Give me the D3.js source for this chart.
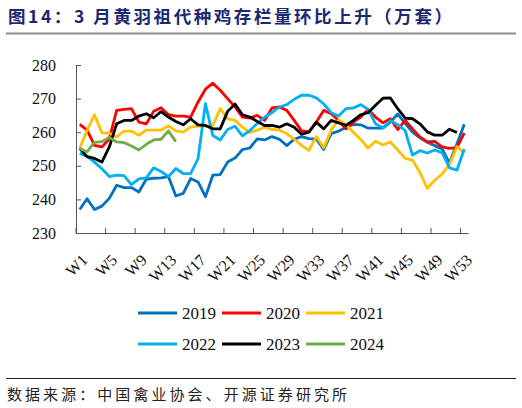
<html>
<head>
<meta charset="utf-8">
<title>黄羽祖代种鸡存栏量</title>
<style type="text/css">
    body { margin: 0; background: #fff; }
    svg { display: block; }
</style>
</head>
<body>
<script src="https://d3js.org/d3.v7.min.js"></script>
<script>

    // categories and tick labels
    var weeks = d3.range(1, 54).map(function (i) { return "W" + i; });
    var tickLabels = ["W1", "W5", "W9", "W13", "W17", "W21", "W25", "W29", "W33", "W37", "W41", "W45", "W49", "W53"];
    var yTicks = [230, 240, 250, 260, 270, 280];
    var years = ["2019", "2020", "2021", "2022", "2023", "2024"];

    // weekly stock (10k sets)
    var v2019 = [237, 240.2, 237, 238, 240.3, 244.2, 243.5, 243.5, 242.2, 246, 246.3, 246.4, 246.8, 241,
        241.8, 246.2, 245.2, 240.8, 247.2, 247.4, 251.1, 252.3, 254.8, 255.3, 258, 257.7, 258.7, 257.9,
        256, 257.9, 258.7, 258.1, 257.9, 254.9, 259.6, 260.3, 261.5, 262.3, 262.2, 261.2, 261.2, 261.2,
        263, 265.4, 262.6, 260, 258.3, 257, 256, 255, 250.8, 256.5, 262.4];
    var v2020 = [262.3, 260.6, 256.1, 255.6, 258, 266.5, 266.8, 267, 263, 262.5, 266.2, 267.3, 265.2, 264.8,
        264.8, 264.5, 269, 272.8, 274.6, 272.5, 270, 267.5, 264.5, 264.2, 265, 263.5, 267.2, 267.5,
        266.5, 263.5, 260.4, 260.2, 263, 266.5, 265.5, 263.5, 261, 263, 264.5, 266.8, 264.5, 262.8,
        264, 260.8, 263.5, 261, 258.6, 257.1, 257.3, 255.6, 255.2, 255.4, 259.8];
    var v2021 = [255.2, 260.5, 265.2, 259.8, 259.7, 258.6, 260.3, 260.3, 259.1, 260.6, 260.6, 260.6, 261.9, 260.4,
        260, 261.5, 261.8, 261.8, 262, 267, 264, 263.5, 261.5, 259.9, 260.6, 261.5, 260.8, 260.6,
        259.6, 257.9, 256.1, 254.6, 258.7, 255.4, 260.6, 263.7, 262.3, 260, 257.8, 255.3, 257.3, 256.2,
        257.1, 254.7, 252.2, 251.7, 248, 243.3, 245.7, 247.5, 250.4, 255.7, 253.8];
    var v2022 = [253.7, 252.8, 251.1, 249.1, 246.8, 247.2, 247.1, 244.4, 246.1, 246.4, 249.4, 248.3, 246.8, 249.2,
        247.7, 247.7, 252.1, 268.5, 259, 257.7, 260.8, 261.8, 258.9, 260.5, 262.6, 264.5, 265.8, 267.5,
        268.2, 269.8, 271, 271, 270.2, 268.4, 265.8, 264.8, 267, 267.2, 268.2, 266.8, 262.5, 261.3,
        263.4, 262.3, 260.5, 253.2, 254.5, 253.8, 254.7, 253.9, 249.4, 248.7, 255];
    var v2023 = [255.2, 252.7, 252.2, 251.1, 255.6, 262.5, 263.5, 263.5, 264.8, 265.5, 264.3, 266.1, 264.5, 263.2,
        262.2, 264, 262.2, 262, 261, 261, 266.2, 268.4, 265.2, 264.5, 263.2, 262, 262, 261.5,
        262.5, 261.5, 259.4, 260, 263, 261, 263.5, 262.8, 262, 263.5, 265.2, 265.8, 268, 270.1,
        270.2, 267, 264.2, 264, 262.5, 260.1, 259.1, 259.1, 260.9, 259.9];
    var v2024 = [255.1, 254.2, 257, 257.2, 258.4, 257.1, 256.9, 255.9, 254.7, 256.4, 257.7, 257.9, 260.4, 257.2];

    var seriesValues = [v2019, v2020, v2021, v2022, v2023, v2024];
    var colors = ["#0070C0", "#FF0000", "#FFC000", "#00B0F0", "#000000", "#70AD47"];

    var width = 522, height = 408;
    var plot = {left: 76, right: 468, top: 65, bottom: 233};

    var svg = d3.select("body").append("svg")
        .attr("width", width)
        .attr("height", height);

    svg.append("rect")
        .attr("width", width)
        .attr("height", height)
        .attr("fill", "#fff");

    // title + rule
    svg.append("text")
        .attr("x", 8)
        .attr("y", 23)
        .attr("textLength", 444)
        .attr("lengthAdjust", "spacing")
        .style("font-family", "'Noto Sans CJK SC', sans-serif")
        .style("font-weight", "bold")
        .style("font-size", "17.5px")
        .style("fill", "#1c2870")
        .text("图14：3 月黄羽祖代种鸡存栏量环比上升（万套）");

    svg.append("line")
        .attr("x1", 6).attr("x2", 516)
        .attr("y1", 33.5).attr("y2", 33.5)
        .style("stroke", "#8c8c8c")
        .style("stroke-width", 2);

    var x = d3.scaleBand()
        .domain(weeks)
        .range([plot.left, plot.right]);
    var y = d3.scaleLinear()
        .domain([230, 280])
        .range([plot.bottom, plot.top]);

    var cx = function (i) { return x(weeks[i]) + x.bandwidth() / 2; };

    // y axis, ticks pointing inward
    var yAxis = svg.append("g")
        .attr("transform", "translate(" + plot.left + ",0)")
        .call(d3.axisLeft(y).tickValues(yTicks).tickSizeInner(-5).tickSizeOuter(0).tickPadding(20));
    yAxis.select(".domain").style("stroke", "#555");
    yAxis.selectAll(".tick line").style("stroke", "#555");
    yAxis.selectAll("text")
        .style("font-family", "'Liberation Serif', serif")
        .style("font-size", "16px")
        .style("fill", "#111");

    // x axis: line, boundary ticks, rotated labels
    var xAxis = svg.append("g")
        .attr("transform", "translate(0," + plot.bottom + ")")
        .call(d3.axisBottom(x).tickValues(tickLabels).tickSize(0).tickSizeOuter(0).tickPadding(0));
    xAxis.select(".domain").style("stroke", "#555");
    xAxis.selectAll(".tick line").remove();
    xAxis.selectAll(".tick text")
        .attr("text-anchor", "end")
        .attr("transform", "translate(5,24) rotate(-45)")
        .attr("dy", "0.35em")
        .attr("y", 0)
        .style("font-family", "'Liberation Serif', serif")
        .style("font-size", "16px")
        .style("fill", "#111");

    xAxis.selectAll(".edge")
        .data(tickLabels)
        .enter().append("line")
        .attr("class", "edge")
        .attr("x1", function (d) { return x(d); })
        .attr("x2", function (d) { return x(d); })
        .attr("y1", 0)
        .attr("y2", -5)
        .style("stroke", "#555");

    // series lines
    var line = d3.line()
        .x(function (d, i) { return cx(i); })
        .y(function (d) { return y(d); });

    svg.selectAll(".series")
        .data(seriesValues)
        .enter().append("path")
        .attr("class", "series")
        .attr("d", line)
        .style("fill", "none")
        .style("stroke", function (d, i) { return colors[i]; })
        .style("stroke-width", 2.8)
        .style("stroke-linejoin", "round");

    // legend, 3 per row
    var legend = svg.selectAll(".legend")
        .data(years)
        .enter().append("g")
        .attr("class", "legend")
        .attr("transform", function (d, i) {
            return "translate(" + (138 + (i % 3) * 84) + "," + (313 + Math.floor(i / 3) * 31) + ")";
        });
    legend.append("line")
        .attr("x1", 0).attr("x2", 39)
        .style("stroke", function (d, i) { return colors[i]; })
        .style("stroke-width", 3);
    legend.append("text")
        .attr("x", 44)
        .attr("y", 6)
        .style("font-family", "'Liberation Serif', serif")
        .style("font-size", "17px")
        .style("fill", "#111")
        .text(function (d) { return d; });

    // source
    svg.append("line")
        .attr("x1", 6).attr("x2", 516)
        .attr("y1", 378.5).attr("y2", 378.5)
        .style("stroke", "#222")
        .style("stroke-width", 1);

    svg.append("text")
        .attr("x", 7)
        .attr("y", 400)
        .attr("textLength", 340)
        .attr("lengthAdjust", "spacing")
        .style("font-family", "'Noto Sans CJK SC', sans-serif")
        .style("font-size", "15px")
        .style("fill", "#222")
        .text("数据来源：中国禽业协会、开源证券研究所");

</script>
</body>
</html>
